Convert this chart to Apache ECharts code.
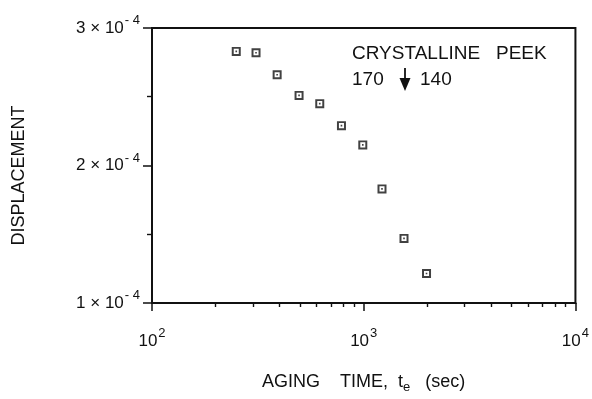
<!DOCTYPE html>
<html>
<head>
<meta charset="utf-8">
<script src="https://cdn.jsdelivr.net/npm/echarts@6/dist/echarts.min.js"></script>
<style>
  html, body { margin: 0; padding: 0; background: #fff; }
  #chart { width: 592px; height: 399px; }
</style>
</head>
<body>
<div id="chart"></div>
<script>
// Aging time (s) and displacement for crystalline PEEK, 170 -> 140 quench
const agingTime = [250, 310, 390, 495, 620, 785, 990, 1220, 1550, 1980];
const displacement = [2.83e-4, 2.82e-4, 2.66e-4, 2.51e-4, 2.45e-4, 2.29e-4, 2.15e-4, 1.83e-4, 1.47e-4, 1.215e-4];

// Axis ranges and ticks
const xRange = [100, 10000];
const xMinorTicks = [200, 300, 400, 500, 600, 700, 800, 900, 2000, 3000, 4000, 5000, 6000, 7000, 8000, 9000];
const yRange = [1e-4, 3e-4];
const yStep = 1e-4;

const FONT = '"Liberation Sans", Arial, Helvetica, sans-serif';
const INK = '#111';

// Hollow square with a centre dot
const markerPath = 'path://M0,0H10V10H0Z M2.2,2.2V7.8H7.8V2.2Z M4.1,4.1H5.9V5.9H4.1Z';

const chart = echarts.init(document.getElementById('chart'), null, { renderer: 'canvas' });

const supRich = {
  m: { fontFamily: FONT, fontSize: 17, color: INK },
  s: { fontFamily: FONT, fontSize: 13, color: INK, padding: [0, 0, 15, 1] }
};

chart.setOption({
  animation: false,
  backgroundColor: '#fff',
  grid: {
    left: 152, right: 11, top: 28, bottom: 82,
    show: true, borderColor: INK, borderWidth: 2, backgroundColor: 'transparent'
  },
  xAxis: [
    {
      type: 'log', logBase: 10, min: xRange[0], max: xRange[1],
      name: '{a|AGING    TIME,  t}{b|e}{a|   (sec)}',
      nameLocation: 'middle', nameGap: 67,
      nameTextStyle: {
        rich: {
          a: { fontFamily: FONT, fontSize: 18, color: INK },
          b: { fontFamily: FONT, fontSize: 13, color: INK, padding: [11, 0, 0, 0] }
        }
      },
      axisLine: { show: true, onZero: false, lineStyle: { color: INK, width: 2 } },
      axisTick: { show: true, inside: false, length: 8, lineStyle: { color: INK, width: 1.5 } },
      splitLine: { show: false },
      minorTick: { show: false },
      axisLabel: {
        margin: 24,
        formatter: v => '{m|10}{s|' + Math.round(Math.log10(v)) + '}',
        rich: supRich
      }
    },
    {
      type: 'log', logBase: 10, min: xRange[0], max: xRange[1],
      position: 'bottom',
      axisLine: { show: false },
      axisLabel: { show: false },
      splitLine: { show: false },
      axisTick: {
        show: true, inside: false, length: 4,
        customValues: xMinorTicks,
        lineStyle: { color: INK, width: 1.4 }
      }
    }
  ],
  yAxis: {
    type: 'value', min: yRange[0], max: yRange[1], interval: yStep,
    name: 'DISPLACEMENT',
    nameLocation: 'middle', nameRotate: 90, nameGap: 124,
    nameTextStyle: { fontFamily: FONT, fontSize: 18, color: INK, padding: [0, 20, 0, 0] },
    axisLine: { show: true, onZero: false, lineStyle: { color: INK, width: 2 } },
    axisTick: { show: true, inside: false, length: 9, lineStyle: { color: INK, width: 1.5 } },
    minorTick: { show: true, splitNumber: 2, length: 5, lineStyle: { color: INK, width: 1.4 } },
    splitLine: { show: false },
    axisLabel: {
      margin: 12,
      formatter: v => '{m|' + Math.round(v / yStep) + ' × 10}{s|- 4}',
      rich: supRich
    }
  },
  series: [{
    type: 'scatter',
    xAxisIndex: 0,
    data: agingTime.map((t, i) => [t, displacement[i]]),
    symbol: markerPath,
    symbolSize: 9,
    itemStyle: { color: INK }
  }],
  graphic: [
    {
      type: 'text', left: 352, top: 44,
      style: { text: 'CRYSTALLINE   PEEK', font: '19px ' + FONT, fill: INK }
    },
    {
      type: 'text', left: 352, top: 70,
      style: { text: '170', font: '19px ' + FONT, fill: INK }
    },
    {
      type: 'text', left: 420, top: 70,
      style: { text: '140', font: '19px ' + FONT, fill: INK }
    },
    {
      type: 'line',
      shape: { x1: 405, y1: 68, x2: 405, y2: 82 },
      style: { stroke: INK, lineWidth: 1.8 }
    },
    {
      type: 'polygon',
      shape: { points: [[399.5, 78], [410.5, 78], [405, 91]] },
      style: { fill: INK }
    }
  ]
});
</script>
</body>
</html>
